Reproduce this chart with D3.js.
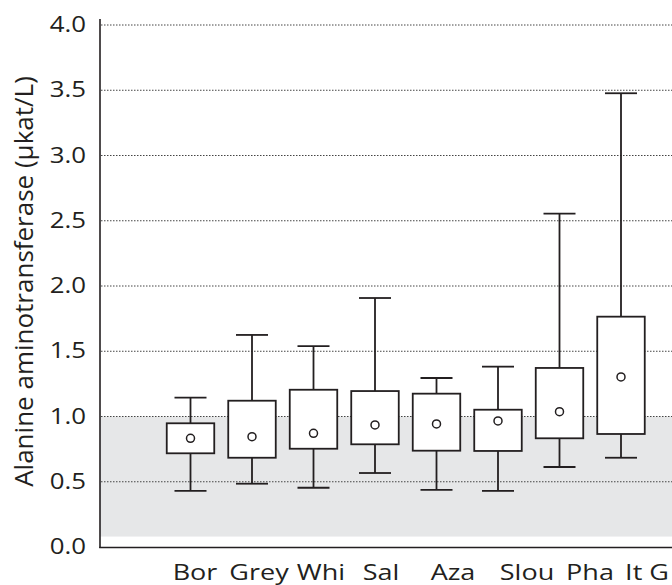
<!DOCTYPE html>
<html><head><meta charset="utf-8">
<script src="https://cdn.jsdelivr.net/npm/d3@7"></script>
<style>body{margin:0;background:#fff}svg{display:block}</style>
</head><body>
<svg id="c" width="672" height="585"></svg>
<script>
const categories = ["Bor","Grey","Whi","Sal","Aza","Slou","Pha","It G"];
const whiskerLow  = [0.43, 0.485, 0.454, 0.567, 0.437, 0.43, 0.613, 0.684];
const q1          = [0.718, 0.684, 0.753, 0.787, 0.738, 0.736, 0.833, 0.866];
const q3          = [0.948, 1.121, 1.205, 1.195, 1.175, 1.052, 1.372, 1.765];
const whiskerHigh = [1.144, 1.625, 1.54, 1.908, 1.295, 1.382, 2.554, 3.477];
const means       = [0.833, 0.845, 0.871, 0.935, 0.943, 0.966, 1.037, 1.303];
const yTicks = [0.0,0.5,1.0,1.5,2.0,2.5,3.0,3.5,4.0];
const refRange = [0.08, 1.0];
const yLabel = "Alanine aminotransferase (µkat/L)";
// label placement tweaks (px offsets of category text from box centre)
const labelShift = [4.5, 7, 7.5, 6, 16.5, 29, 30.5, 26];

const svg = d3.select("#c");
const ink = "#231f20";
const font = "'Open Sans', sans-serif";
const y = d3.scaleLinear().domain([0,4]).range([547,25]);
const x = d3.scaleBand().domain(categories).range([159.75,651.75]).padding(0);
const cx = d => x(d) + x.bandwidth()/2;
const boxW = 47.5, capW = 32;

// reference range shading
svg.append("rect").attr("x",100).attr("width",572)
  .attr("y",y(refRange[1])).attr("height",y(refRange[0])-y(refRange[1]))
  .attr("fill","#e6e7e8");

// gridlines
svg.append("g").selectAll("line").data(yTicks.filter(t=>t>0)).join("line")
  .attr("x1",101).attr("x2",672).attr("y1",d=>y(d)).attr("y2",d=>y(d))
  .attr("stroke","#444").attr("stroke-width",1).attr("stroke-dasharray","1.5,1.5");

// y axis
const sx = 1.23;
const yAxis = d3.axisLeft(y).tickValues(yTicks).tickFormat(d3.format(".1f")).tickSize(0).tickPadding(14);
const ga = svg.append("g").attr("transform","translate(100,0)").call(yAxis);
ga.select(".domain").remove();
ga.selectAll("text").attr("font-family",font).attr("font-size",21).attr("fill",ink)
  .attr("x",-14/sx).attr("transform",`scale(${sx},1)`);
svg.append("line").attr("x1",100).attr("x2",100).attr("y1",19).attr("y2",548).attr("stroke",ink).attr("stroke-width",1.6);
svg.append("line").attr("x1",99.2).attr("x2",672).attr("y1",547.5).attr("y2",547.5).attr("stroke",ink).attr("stroke-width",1.6);

// x labels
svg.append("g").selectAll("text").data(categories).join("text")
  .attr("transform",(d,i)=>`translate(${cx(d)+labelShift[i]},580) scale(1.2,1)`)
  .attr("text-anchor","middle")
  .attr("font-family",font).attr("font-size",22.5).attr("fill",ink).text(d=>d);

// y label
svg.append("text").attr("transform","translate(33,281.5) rotate(-90)").attr("text-anchor","middle")
  .attr("font-family",font).attr("font-size",26).attr("fill",ink).text(yLabel);

// boxes
const g = svg.append("g").attr("stroke",ink).attr("stroke-width",1.8);
categories.forEach((c,i)=>{
  const X = cx(c);
  g.append("line").attr("x1",X).attr("x2",X).attr("y1",y(whiskerHigh[i])).attr("y2",y(q3[i]));
  g.append("line").attr("x1",X).attr("x2",X).attr("y1",y(q1[i])).attr("y2",y(whiskerLow[i]));
  g.append("line").attr("x1",X-capW/2).attr("x2",X+capW/2).attr("y1",y(whiskerHigh[i])).attr("y2",y(whiskerHigh[i]));
  g.append("line").attr("x1",X-capW/2).attr("x2",X+capW/2).attr("y1",y(whiskerLow[i])).attr("y2",y(whiskerLow[i]));
  g.append("rect").attr("x",X-boxW/2).attr("width",boxW).attr("y",y(q3[i])).attr("height",y(q1[i])-y(q3[i])).attr("fill","#fff");
  g.append("circle").attr("cx",X).attr("cy",y(means[i])).attr("r",4).attr("fill","#fff").attr("stroke-width",1.5);
});
</script>
</body></html>
